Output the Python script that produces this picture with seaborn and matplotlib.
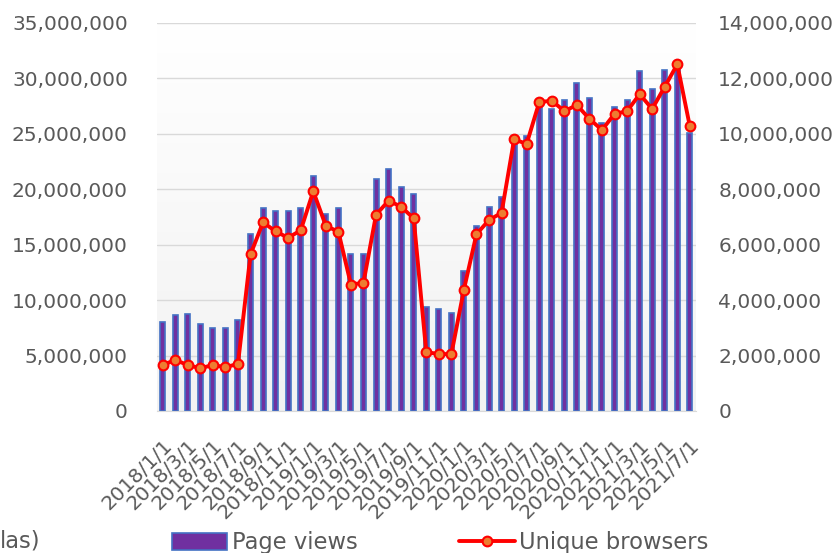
import numpy as np
import pandas as pd
import matplotlib
matplotlib.use("Agg")
import matplotlib.pyplot as plt
import matplotlib.ticker as mticker
from matplotlib.patches import Patch
from matplotlib.lines import Line2D
import seaborn as sns

# monthly data 2018/1 - 2021/7 (values in millions)
months = pd.date_range("2018-01-01", "2021-07-01", freq="MS")
month_labels = [f"{d.year}/{d.month}/1" for d in months]

page_views = [8.05, 8.66, 8.72, 7.88, 7.52, 7.46, 8.21,
              15.97, 18.28, 18.04, 18.07, 18.34, 21.23, 17.74, 18.34, 14.16, 14.16,
              20.90, 21.83, 20.24, 19.55,
              9.35, 9.20, 8.87, 12.66, 16.69, 18.37, 19.33,
              24.3, 24.8, 27.6, 27.21, 28.05, 29.62, 28.2, 25.95, 27.45, 28.08,
              30.70, 29.02, 30.76, 31.3, 25.05]
unique_browsers = [1.66, 1.84, 1.66, 1.54, 1.66, 1.58, 1.70,
                   5.65, 6.81, 6.48, 6.25, 6.52, 7.93, 6.68, 6.47, 4.56, 4.63,
                   7.08, 7.59, 7.37, 6.95,
                   2.12, 2.06, 2.05, 4.38, 6.38, 6.89, 7.15,
                   9.80, 9.64, 11.14, 11.20, 10.82, 11.04, 10.54, 10.14, 10.72, 10.82,
                   11.43, 10.90, 11.70, 12.51, 10.27]

df = pd.DataFrame({
    "month": month_labels,
    "pv": np.array(page_views) * 1e6,
    "ub": np.array(unique_browsers) * 1e6,
    "pos": np.arange(len(month_labels)),
})

sns.set_style("white")
plt.rcParams["font.family"] = ["DejaVu Sans"]
txt_color = "#595959"
fs = 14.5
fs_leg = 16.3

fig = plt.figure(figsize=(8.36, 5.53), dpi=100)
ax = fig.add_axes([157 / 836, 1 - 411 / 553, (696 - 157) / 836, (411 - 23) / 553])

# light gradient in plot area
grad = np.linspace(1.0, 0.0, 256).reshape(-1, 1)
ax.imshow(grad, cmap=matplotlib.colors.LinearSegmentedColormap.from_list("g", ["#f2f2f2", "#ffffff"]),
          aspect="auto", extent=[0, 1, 0, 1], transform=ax.transAxes, zorder=0)

sns.barplot(data=df, x="month", y="pv", color="#7030A0", width=0.4,
            edgecolor="#4472C4", linewidth=1.2, saturation=1, ax=ax, zorder=3)

ax.set_ylim(0, 35e6)
ax.set_xlim(-0.45, 42.49)
ax.set_yticks(np.arange(0, 35e6 + 1, 5e6))
ax.yaxis.set_major_formatter(mticker.FuncFormatter(lambda x, _: f"{int(x):,}"))
ax.set_xticks(np.arange(0, len(month_labels), 2))
ax.set_xticklabels(month_labels[::2], rotation=45, ha="right", rotation_mode="anchor")
ax.grid(axis="y", color="#d9d9d9", linewidth=1, zorder=1)
ax.set_axisbelow(True)
ax.set_xlabel("")
ax.set_ylabel("")
ax.tick_params(axis="both", length=0, labelsize=fs, labelcolor=txt_color)
ax.tick_params(axis="y", pad=21)
ax.tick_params(axis="x", pad=18)
for s in ["top", "right", "left"]:
    ax.spines[s].set_visible(False)
ax.spines["bottom"].set_color("#d9d9d9")

ax2 = ax.twinx()
sns.lineplot(data=df, x="pos", y="ub", color="#FF0000", linewidth=2.8, marker="o",
             markersize=7, markerfacecolor="#ED7D31", markeredgecolor="#FF0000",
             markeredgewidth=1.5, ax=ax2, zorder=5)
ax2.set_ylim(0, 14e6)
ax2.set_xlim(-0.45, 42.49)
ax2.set_yticks(np.arange(0, 14e6 + 1, 2e6))
ax2.yaxis.set_major_formatter(mticker.FuncFormatter(lambda x, _: f"{int(x):,}"))
ax2.set_xlabel("")
ax2.set_ylabel("")
ax2.tick_params(axis="y", length=0, labelsize=fs, labelcolor=txt_color, pad=16)
for s in ax2.spines.values():
    s.set_visible(False)

handles = [
    Patch(facecolor="#7030A0", edgecolor="#4472C4", linewidth=1.2),
    Line2D([0], [0], color="#FF0000", linewidth=2.8, marker="o", markersize=7,
           markerfacecolor="#ED7D31", markeredgecolor="#FF0000", markeredgewidth=1.5),
]
fig.legend(handles, ["Page views", "Unique browsers"], loc="center",
           bbox_to_anchor=(440 / 836, 1 - 543 / 553), ncol=2, frameon=False,
           fontsize=fs_leg, labelcolor=txt_color, handlelength=2.45, handleheight=0.8,
           handletextpad=0.2, columnspacing=4.5)

fig.text(0.0, 1 - 541 / 553, "las)", fontsize=fs_leg, color=txt_color, va="center", ha="left")

fig.savefig("out.png", dpi=100)
